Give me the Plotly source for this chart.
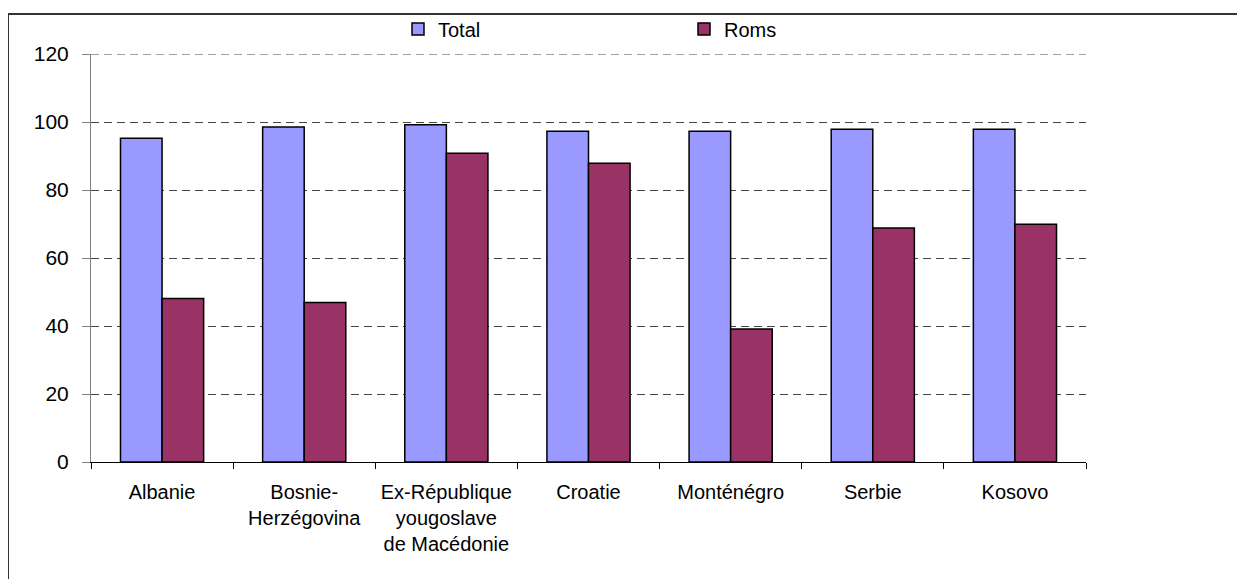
import plotly.graph_objects as go

categories = ["Albanie", "Bosnie-<br>Herzégovina", "Ex-République<br>yougoslave<br>de Macédonie",
              "Croatie", "Monténégro", "Serbie", "Kosovo"]
total = [95.2, 98.5, 99.2, 97.3, 97.3, 97.9, 97.9]
roms = [48.1, 46.9, 90.8, 87.9, 39.1, 68.8, 69.9]
y_ticks = [0, 20, 40, 60, 80, 100, 120]

OFF = 8  # page body margin
W, H = 1245 - OFF, 579 - OFF
L, R, T, B = 91 - OFF, 1086 - OFF, 54 - OFF, 462 - OFF
pw, ph = R - L, B - T

def px_x(x):
    return (x - OFF - L) / pw

def px_y(y):
    return (B - (y - OFF)) / ph

FONT = "Liberation Sans, Arial, sans-serif"
GRID = dict(color="#444444", width=1, dash="8px,5px")

fig = go.Figure()
fig.add_trace(go.Bar(x=categories, y=total, name="Total", showlegend=True,
                     marker=dict(color="#9999FF", line=dict(color="#000000", width=1.5)),
                     legend="legend"))
fig.add_trace(go.Bar(x=categories, y=roms, name="Roms", showlegend=True,
                     marker=dict(color="#993366", line=dict(color="#000000", width=1.5)),
                     legend="legend2"))

fig.update_layout(
    width=W, height=H, showlegend=True,
    margin=dict(l=L, r=W - R, t=T, b=H - B, pad=0, autoexpand=False),
    paper_bgcolor="white", plot_bgcolor="white",
    barmode="group", bargap=0.415, bargroupgap=0,
    font=dict(family=FONT, size=20, color="#000000"),
    xaxis=dict(showline=True, linecolor="#000000", linewidth=1,
               ticks="outside", ticklen=6, tickcolor="#000000", tickson="boundaries",
               showgrid=False, tickfont=dict(size=20), ticklabelstandoff=12),
    yaxis=dict(range=[0, 120], tickvals=y_ticks, showline=True, linecolor="#808080", linewidth=1,
               ticks="outside", ticklen=8, tickcolor="#808080",
               showgrid=True, gridcolor=GRID["color"], gridwidth=1, griddash=GRID["dash"],
               zeroline=False, tickfont=dict(size=21), ticklabelstandoff=9),
    legend=dict(x=px_x(398), y=px_y(29), xanchor="left", yanchor="middle",
                orientation="h", font=dict(size=20), bgcolor="rgba(0,0,0,0)"),
    legend2=dict(x=px_x(684), y=px_y(29), xanchor="left", yanchor="middle",
                 orientation="h", font=dict(size=20), bgcolor="rgba(0,0,0,0)"),
    shapes=[
        dict(type="rect", xref="paper", yref="paper",
             x0=px_x(8), y0=px_y(1000), x1=px_x(2000), y1=px_y(14),
             line=dict(color="#333333", width=2), fillcolor="rgba(0,0,0,0)", layer="below"),
        dict(type="line", xref="paper", yref="y", x0=0, x1=1, y0=y_ticks[-1], y1=y_ticks[-1],
             line=GRID, layer="below"),
    ],
)

fig.write_html("out.html")
